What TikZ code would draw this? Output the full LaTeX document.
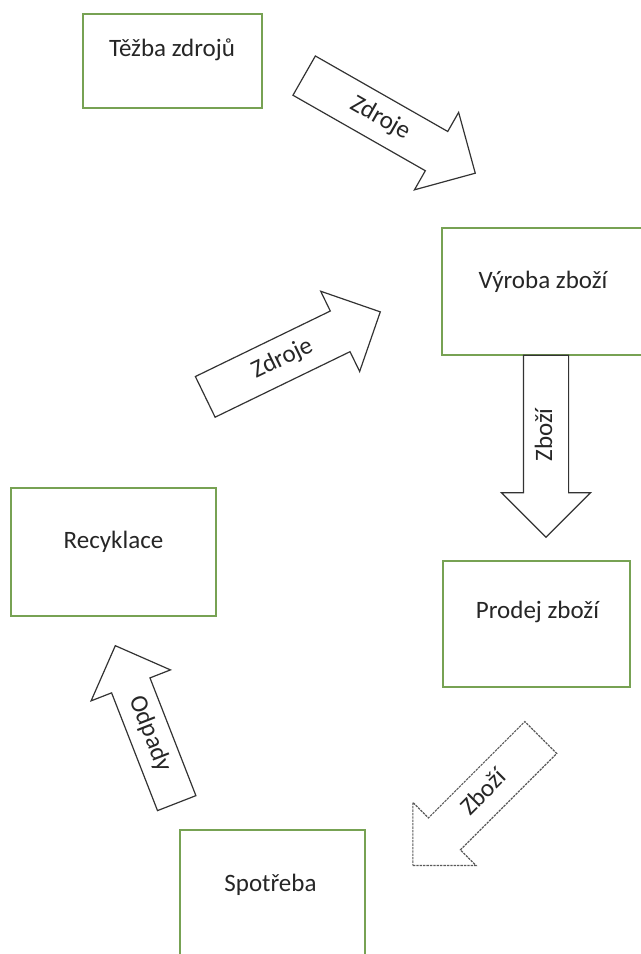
\documentclass[tikz,border=0pt]{standalone}
\usepackage{fontspec}
\setmainfont{Carlito}
\usetikzlibrary{shapes.arrows}
\definecolor{boxgreen}{HTML}{77A253}
\definecolor{arrowline}{HTML}{333333}

\begin{document}
\begin{tikzpicture}[
  x=0.5pt, y=-0.5pt,
  every node/.style={font=\fontsize{12.5}{15}\selectfont},
  stagebox/.style={rectangle, draw=boxgreen, line width=1.3pt, fill=white, inner sep=0pt},
  stagetext/.style={inner sep=0pt, text=black!85},
  flowarrow/.style={single arrow, draw=arrowline, line width=0.6pt, fill=white, text=black!85, text height=9pt, text depth=3pt, inner ysep=5pt, inner xsep=2pt, single arrow head extend=11pt, single arrow tip angle=90, single arrow head indent=0pt, minimum width=44pt},
]
\clip (0,0) rectangle (641,954);

% stages
\node[stagebox, minimum width=89.5pt, minimum height=47pt] (tezba) at (172.5,61) {};
\node[stagebox, minimum width=109pt, minimum height=63.5pt] (vyroba) at (551,291.5) {};
\node[stagebox, minimum width=102.5pt, minimum height=64pt] (recyklace) at (113.5,552) {};
\node[stagebox, minimum width=93.5pt, minimum height=63pt] (prodej) at (536.5,624) {};
\node[stagebox, minimum width=92.5pt, minimum height=80pt] (spotreba) at (272.5,910) {};

\node[stagetext] (tezba-t) at (172,50) {Těžba zdrojů};
\node[stagetext] (vyroba-t) at (543,282) {Výroba zboží};
\node[stagetext] (recyklace-t) at (113.5,542) {Recyklace};
\node[stagetext] (prodej-t) at (537.5,612) {Prodej zboží};
\node[stagetext] (spotreba-t) at (270.5,885) {Spotřeba};

% flows
\node[flowarrow, minimum height=98.5pt, rotate=-29.7] (zdroje1) at (379.9,118.8) {Zdroje};
\node[flowarrow, minimum height=97.3pt, rotate=25.9] (zdroje2) at (282.6,359.3) {Zdroje};
\node[flowarrow, minimum height=91pt, rotate=90, shape border rotate=180] (zbozi1) at (546,435) {Zboží};
\node[flowarrow, minimum height=90.4pt, rotate=45, shape border rotate=180, draw=black!65, dash pattern=on 1.2pt off 0.5pt] (zbozi2) at (484.8,793.5) {Zboží};
\node[flowarrow, minimum height=84.5pt, rotate=-68.7, shape border rotate=180, inner ysep=4pt, minimum width=42pt] (odpady) at (149.75,734) {Odpady};
\end{tikzpicture}
\end{document}
